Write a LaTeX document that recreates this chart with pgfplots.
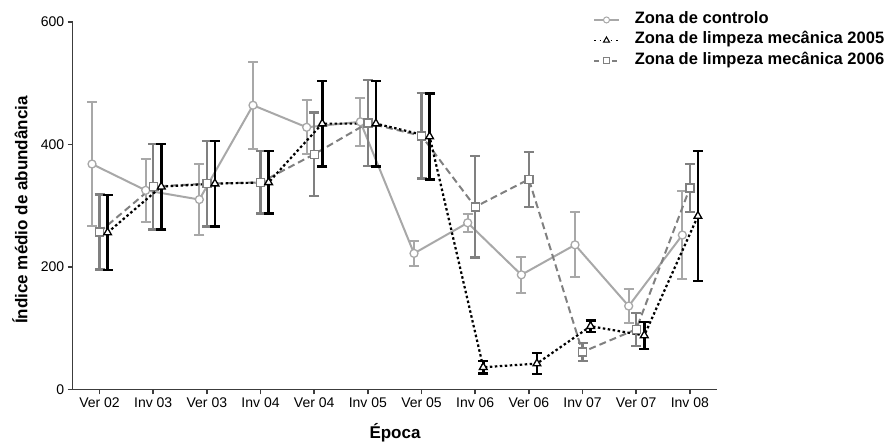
\documentclass[border=0pt]{standalone}
\usepackage{fontspec}
\setmainfont{Liberation Sans}
\usepackage{pgfplots}
\usepackage{pgfplotstable}
\pgfplotsset{compat=1.18}

\definecolor{ctrlc}{RGB}{168,168,168}
\definecolor{l06c}{RGB}{128,128,128}
\definecolor{l05c}{RGB}{0,0,0}
\definecolor{axc}{RGB}{60,60,60}

% mean abundance index and its error, per season (0 = Ver 02 ... 11 = Inv 08)
\pgfplotstableread{
x y e
0 368 101
1 325 52
2 310 58
3 464 71
4 428 44
5 437 39
6 222 21
7 272 15
8 187 29
9 236 53
10 136 28
11 252 72
}\controlo

\pgfplotstableread{
x y e
0 256 61
1 331 70
2 336 70
3 338 51
4 434 70
5 434 70
6 413 70
7 36 10
8 42 17
9 103 9
10 88 22
11 283 106
}\limpezaA

\pgfplotstableread{
x y e
0 257 61
1 331 70
2 336 70
3 338 51
4 384 68
5 435 70
6 414 70
7 298 83
8 343 45
9 61 15
10 98 27
11 329 39
}\limpezaB

\begin{document}
\begin{tikzpicture}
\useasboundingbox (0,0) rectangle (888bp,448bp);
\begin{axis}[
  at={(72.7bp,58.7bp)}, anchor=south west,
  scale only axis, width=644bp, height=367.3bp,
  xmin=-0.5, xmax=11.5, ymin=0, ymax=600,
  axis x line*=bottom, axis y line*=left,
  axis line style={line width=1.5bp, color=axc},
  tick style={line width=1.5bp, color=axc},
  tick align=outside, major tick length=5bp,
  xtick={0,...,11},
  xticklabels={Ver 02,Inv 03,Ver 03,Inv 04,Ver 04,Inv 05,Ver 05,Inv 06,Ver 06,Inv 07,Ver 07,Inv 08},
  ytick={0,200,400,600},
  /pgf/number format/assume math mode=true,
  tick label style={font=\fontsize{14bp}{16bp}\selectfont},
  xlabel={Época}, ylabel={Índice médio de abundância},
  every axis x label/.style={at={(axis description cs:0.5005,-0.119)}, anchor=center,
    font=\fontsize{17bp}{19bp}\selectfont\bfseries},
  every axis y label/.style={at={(axis description cs:-0.0818,0.488)}, rotate=90, anchor=center,
    font=\fontsize{17bp}{19bp}\selectfont\bfseries},
  legend style={at={(axis description cs:0.808,1.034)}, anchor=north west,
    draw=none, fill=none, inner sep=0pt,
    font=\fontsize{16.5bp}{18bp}\selectfont\bfseries,
    nodes={inner sep=1bp, text height=12.5bp, text depth=6bp},
    row sep=0bp,
    /tikz/every odd column/.append style={column sep=14bp}},
  legend cell align=left,
  legend image code/.code={\draw[mark repeat=2,mark phase=2,#1] plot coordinates {(0bp,0bp) (12.5bp,0bp) (25bp,0bp)};},
  error bars/y dir=both, error bars/y explicit,
]
% control zone
\addplot[forget plot, color=ctrlc, line width=2bp, mark=*, mark size=4bp,
  mark options={solid, fill=white, draw=ctrlc, line width=1.3bp},
  error bars/error bar style={line width=2bp, color=ctrlc, solid},
  error bars/error mark options={rotate=90, mark size=5bp, line width=2bp, color=ctrlc, solid}]
  table[x expr=\thisrow{x}-0.14, y=y, y error=e] {\controlo};
% mechanical cleaning 2006
\addplot[forget plot, color=l06c, line width=2bp, dash pattern=on 7bp off 4bp, mark=square*, mark size=4bp,
  mark options={solid, fill=white, draw=l06c, line width=1.3bp},
  error bars/error bar style={line width=2.5bp, color=l06c, solid},
  error bars/error mark options={rotate=90, mark size=5bp, line width=2.5bp, color=l06c, solid}]
  table[x=x, y=y, y error=e] {\limpezaB};
% mechanical cleaning 2005
\addplot[forget plot, color=l05c, line width=2.2bp, dash pattern=on 2.5bp off 2.5bp, mark=triangle*, mark size=4.5bp,
  mark options={solid, fill=white, draw=l05c, line width=1.3bp},
  error bars/error bar style={line width=2.5bp, color=l05c, solid},
  error bars/error mark options={rotate=90, mark size=5bp, line width=2.5bp, color=l05c, solid}]
  table[x expr=\thisrow{x}+0.15, y=y, y error=e] {\limpezaA};

\addlegendimage{color=ctrlc, line width=1.5bp, mark=*, mark size=3bp, mark options={solid, fill=white, draw=ctrlc, line width=1bp}}
\addlegendentry{Zona de controlo}
\addlegendimage{color=l05c, line width=1.5bp, dash pattern=on 1.5bp off 4bp, mark=triangle*, mark size=3.5bp, mark options={solid, fill=white, draw=l05c, line width=1bp}}
\addlegendentry{Zona de limpeza mecânica 2005}
\addlegendimage{color=l06c, line width=1.5bp, dash pattern=on 5bp off 4bp, mark=square*, mark size=3bp, mark options={solid, fill=white, draw=l06c, line width=1bp}}
\addlegendentry{Zona de limpeza mecânica 2006}
\end{axis}
\end{tikzpicture}
\end{document}
